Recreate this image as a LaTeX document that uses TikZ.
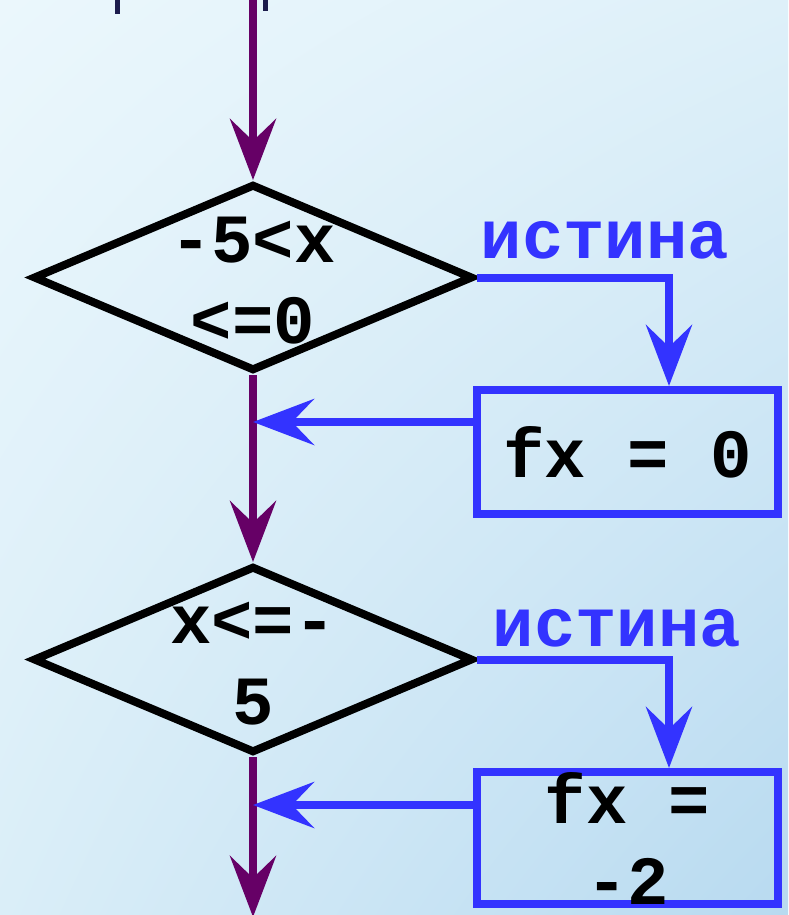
\documentclass[tikz,border=0pt]{standalone}
\usepackage{fontspec}
\setmainfont{Liberation Mono}
\usetikzlibrary{shapes.geometric, arrows.meta, calc, shadings}

\definecolor{flowpurple}{HTML}{660066}
\definecolor{flowblue}{HTML}{3333FF}
\definecolor{inknavy}{HTML}{1C1C4C}
\definecolor{bgul}{RGB}{235,247,252}
\definecolor{bgur}{RGB}{222,240,249}
\definecolor{bgll}{RGB}{218,238,248}
\definecolor{bglr}{RGB}{184,218,240}

\begin{document}
\begin{tikzpicture}[
  x=1pt, y=-1pt,
  font=\fontsize{69}{81}\selectfont\bfseries,
  cond/.style={diamond, draw=black, line width=8pt, inner sep=0pt,
               minimum width=440pt, minimum height=187pt},
  ctext/.style={align=center, inner sep=0pt},
  act/.style={rectangle, draw=flowblue, line width=8pt, inner sep=0pt,
              minimum width=301pt, minimum height=124pt, align=center},
  lbl/.style={text=flowblue, inner sep=0pt},
  parr/.style={draw=flowpurple, line width=8pt,
               -{Stealth[length=61pt, width=46pt, inset=22pt]}},
  barr/.style={draw=flowblue, line width=8pt,
               -{Stealth[length=61pt, width=46pt, inset=22pt]}},
]
% background
\shade[upper left=bgul, upper right=bgur, lower left=bgll, lower right=bglr]
  (0,0) rectangle (788,915);
\useasboundingbox (0,0) rectangle (788,915);
% cut-off strokes from the block above
\fill[inknavy] (115,0) rectangle (120,14);
\fill[inknavy] (263,0) rectangle (268,11);

\coordinate (top) at (253,0);
\coordinate (bot) at (253,917);
\node (d1) [cond] at (253,277.5) {};
\node (d1t) [ctext] at (253,281) {-5<x\\<=0};
\node (b1) [act] at (627.5,452) {fx = 0};
\node (d2) [cond] at (253,659.5) {};
\node (d2t) [ctext] at (253,664) {x<=-\\5};
\node (b2) [act, minimum height=126pt] at (627.5,838) {fx =\\-2};
\node (t1) [lbl] at (605,240) {истина};
\node (t2) [lbl] at (617,628) {истина};
\coordinate (j1) at (253,422);
\coordinate (j2) at (253,805);
\coordinate (drop) at (669,0);
% edges
\draw [parr] (top) -- (d1.north);
\draw [parr] (d1.south) -- (d2.north);
\draw [parr] (d2.south) -- (bot);
\draw [barr] (d1.east) -| (drop |- b1.north);
\draw [barr] (d2.east) -| (drop |- b2.north);
\draw [barr] (b1.west |- j1) -- (j1);
\draw [barr] (b2.west |- j2) -- (j2);
\end{tikzpicture}
\end{document}
